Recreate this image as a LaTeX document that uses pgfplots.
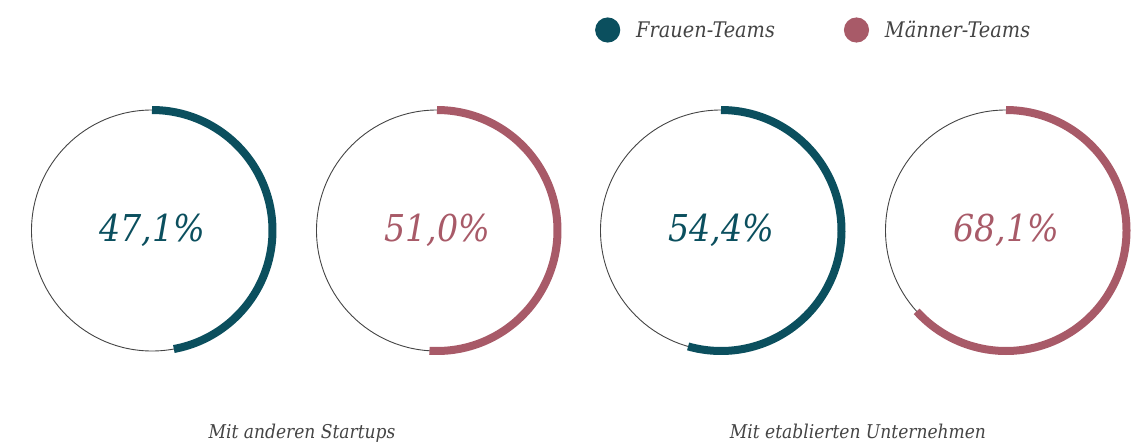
\documentclass[border=0pt]{standalone}
\usepackage{fontspec}
\setmainfont{DejaVu Serif Condensed}
\usepackage{pgfplots}
\pgfplotsset{compat=1.18}
\definecolor{frau}{HTML}{0B4F5E}
\definecolor{mann}{HTML}{A85A68}
\definecolor{ring}{HTML}{444444}
\definecolor{txt}{HTML}{444444}
\begin{document}
\begin{tikzpicture}
\begin{axis}[
  x=1pt, y=1pt,
  xmin=0, xmax=1142, ymin=0, ymax=442,
  y dir=reverse,
  hide axis, clip=false,
  legend columns=2,
  legend style={at={(axis cs:595,30)}, anchor=west, draw=none, fill=none,
    font=\fontsize{21.5}{26}\selectfont\itshape\color{txt},
    /tikz/every odd column/.append style={column sep=14pt},
    /tikz/every even column/.append style={column sep=67pt},
    inner sep=0pt},
  legend image code/.code={\fill (4pt,0pt) circle (8.5pt);},
]
\path (axis cs:0,0) rectangle (axis cs:1142,442);
% full thin rings
\draw[ring, line width=0.9pt] (axis cs:152,230.5) circle [radius=120.5];
\draw[ring, line width=0.9pt] (axis cs:437,230.5) circle [radius=120.5];
\draw[ring, line width=0.9pt] (axis cs:721,230.5) circle [radius=120.5];
\draw[ring, line width=0.9pt] (axis cs:1006,230.5) circle [radius=120.5];
% value arcs (x = percentage, clockwise from top)
\addplot[frau, line width=8pt, line cap=butt, domain=0:47.1, samples=120]
  ({152+120.5*sin(3.6*x)},{230.5-120.5*cos(3.6*x)});
\addlegendentry{Frauen-Teams}
\addplot[mann, line width=8pt, line cap=butt, domain=0:51.0, samples=120]
  ({437+120.5*sin(3.6*x)},{230.5-120.5*cos(3.6*x)});
\addlegendentry{Männer-Teams}
\addplot[frau, line width=8pt, line cap=butt, domain=0:54.4, samples=120, forget plot]
  ({721+120.5*sin(3.6*x)},{230.5-120.5*cos(3.6*x)});
\addplot[mann, line width=8pt, line cap=butt, domain=0:63.3, samples=120, forget plot]
  ({1006+120.5*sin(3.6*x)},{230.5-120.5*cos(3.6*x)});
% value labels
\node[frau, font=\fontsize{37}{44}\selectfont\itshape] at (axis cs:152,230) {47,1\%};
\node[mann, font=\fontsize{37}{44}\selectfont\itshape] at (axis cs:437,230) {51,0\%};
\node[frau, font=\fontsize{37}{44}\selectfont\itshape] at (axis cs:721,230) {54,4\%};
\node[mann, font=\fontsize{37}{44}\selectfont\itshape] at (axis cs:1006,230) {68,1\%};
% group labels
\node[txt, font=\fontsize{19}{23}\selectfont\itshape, anchor=base] at (axis cs:302,438) {Mit anderen Startups};
\node[txt, font=\fontsize{19}{23}\selectfont\itshape, anchor=base] at (axis cs:858,438) {Mit etablierten Unternehmen};
\end{axis}
\end{tikzpicture}
\end{document}
